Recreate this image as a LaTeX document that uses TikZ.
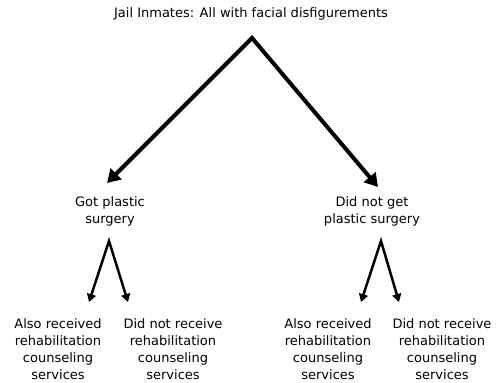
\documentclass[tikz,border=0pt]{standalone}
\usepackage{fontspec}
\setmainfont{DejaVu Sans}
\usetikzlibrary{arrows.meta}
\begin{document}
\begin{tikzpicture}[x=1pt,y=-1pt,
  lbl/.style={align=center,inner sep=0pt,font=\fontsize{13}{17}\selectfont},
  bigarrow/.style={line width=4pt,line join=miter,
    {Triangle[length=13pt,width=15pt]}-{Triangle[length=13pt,width=15pt]}},
  smallarrow/.style={line width=2.5pt,line join=miter,
    {Triangle[length=8pt,width=9pt]}-{Triangle[length=8pt,width=9pt]}}]
  \useasboundingbox (0,0) rectangle (496,383);

  % labels
  \node[lbl] (top) at (251,14) {Jail Inmates: All with facial disfigurements};
  \node[lbl] (gs) at (110,211.5) {Got plastic\\surgery};
  \node[lbl] (dng) at (372,211) {Did not get\\plastic surgery};
  \node[lbl] (gsa) at (58,349) {Also received\\rehabilitation\\counseling\\services};
  \node[lbl] (gsb) at (173,349) {Did not receive\\rehabilitation\\counseling\\services};
  \node[lbl] (dnga) at (328,349) {Also received\\rehabilitation\\counseling\\services};
  \node[lbl] (dngb) at (442,349) {Did not receive\\rehabilitation\\counseling\\services};

  % branch points and arrow ends
  \coordinate (apex) at (252,38);
  \coordinate (tgs) at (107,183);
  \coordinate (tdng) at (378,187);
  \coordinate (gsapex) at (109,241);
  \coordinate (tgsa) at (89,302);
  \coordinate (tgsb) at (128,302);
  \coordinate (dngapex) at (381,241);
  \coordinate (tdnga) at (361,302);
  \coordinate (tdngb) at (399,302);

  % connectors
  \draw[bigarrow] (tgs) -- (apex) -- (tdng);
  \draw[smallarrow] (tgsa) -- (gsapex) -- (tgsb);
  \draw[smallarrow] (tdnga) -- (dngapex) -- (tdngb);
\end{tikzpicture}
\end{document}
